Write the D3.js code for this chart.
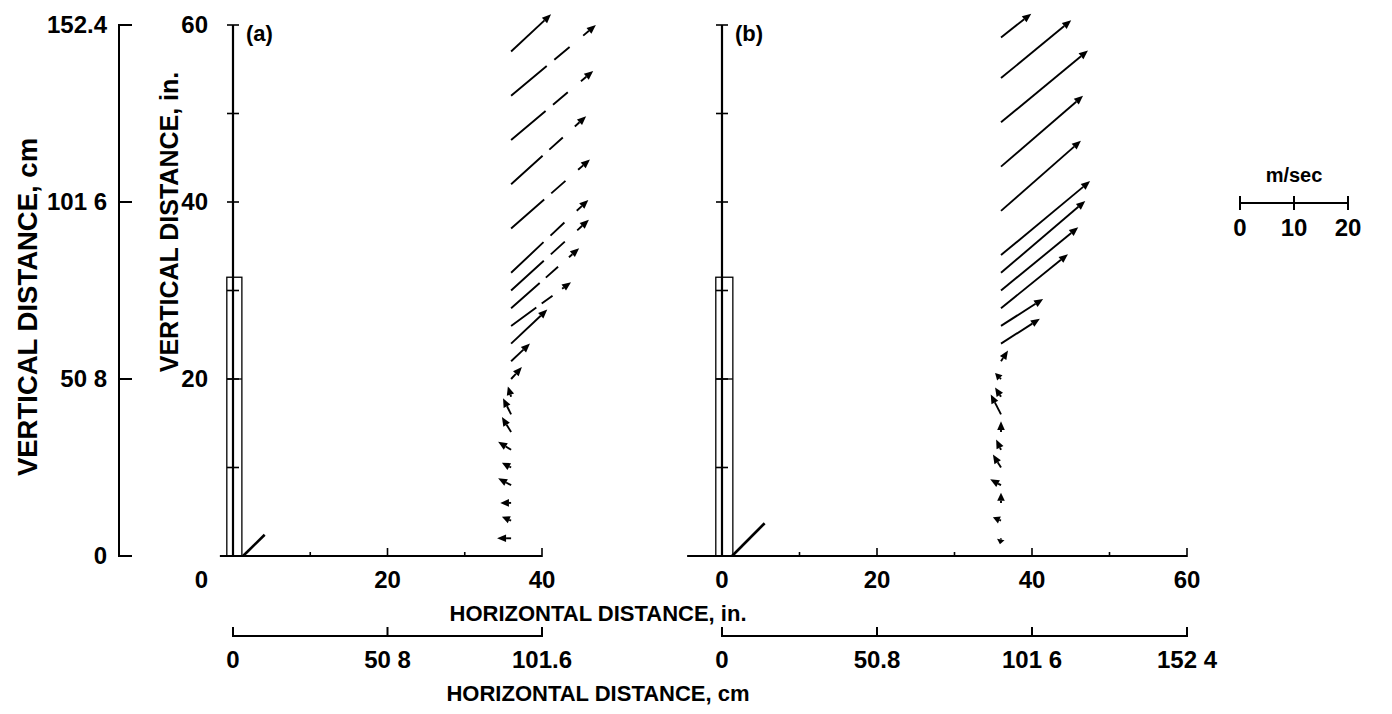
<!DOCTYPE html>
<html><head><meta charset="utf-8">
<script src="https://cdn.jsdelivr.net/npm/d3@7/dist/d3.min.js"></script>
<style>
body{margin:0;background:#fff}
text{font-family:"Liberation Sans",Arial,Helvetica,sans-serif;font-weight:bold;fill:#000}
</style>
</head><body>
<svg id="c" width="1392" height="714"></svg>
<script>
// ---------------- data ----------------
const stationIn = 36;                       // horizontal position of measuring station, in.
const heightsA = [2,4,6,8,10,12,14,16,18,20,22,24,26,28,30,32,37,42,47,52,57];
const uA = [-2.6,-1.7,-2.0,-2.4,-1.7,-2.4,-1.7,-1.5,-0.6,2.0,3.5,6.7,11.1,12.6,14.4,14.3,14.6,13.9,15.2,15.7,7.4];
const vA = [0.0,0.7,0.0,1.3,0.9,1.5,2.8,3.0,1.9,2.2,3.3,6.3,8.1,11.1,13.1,13.5,12.8,12.6,12.8,13.1,6.9];
const heightsB = [2,4,6,8,10,12,14,16,18,20,22,24,26,28,30,32,34,39,44,49,54,58.6];
const uB = [-0.2,-1.5,0.0,-2.0,-1.5,-0.9,0.0,-1.9,-1.1,-1.1,1.3,7.2,7.8,12.4,14.3,15.6,16.5,14.8,15.2,16.1,13.0,5.6];
const vB = [-1.1,0.6,1.9,1.1,2.4,1.9,2.0,3.7,1.7,1.1,2.0,4.6,5.0,10.0,11.7,13.3,13.7,13.0,13.1,13.3,10.7,4.4];
const yTicksIn = [0,10,20,30,40,50,60];
const yLabelsIn = [[20,"20"],[40,"40"],[60,"60"]];
const yTicksCm = [[0,"0"],[50.8,"50 8"],[101.6,"101 6"],[152.4,"152.4"]];
const xTicksA = [10,20,30,40];
const xLabelsA = [[20,"20"],[40,"40"]];
const xTicksB = [10,20,30,40,50,60];
const xLabelsB = [[0,"0"],[20,"20"],[40,"40"],[60,"60"]];
const cmTicksA = [[0,"0"],[50.8,"50 8"],[101.6,"101.6"]];
const cmTicksB = [[0,"0"],[50.8,"50.8"],[101.6,"101 6"],[152.4,"152 4"]];
const legendTicks = [0,10,20];
const modelA = {x0:-0.8, x1:1.15, top:31.5, mid:20};
const modelB = {x0:-0.8, x1:1.4, top:31.5, mid:20};
const baseVecA = [1.3,0,4.1,2.4];
const baseVecB = [1.3,0,5.5,3.7];

// ---------------- scales ----------------
const svg = d3.select("#c");
const yIn = d3.scaleLinear().domain([0,60]).range([556,25]);
const yCm = d3.scaleLinear().domain([0,152.4]).range([556,25]);
const xA = d3.scaleLinear().domain([0,40]).range([233,542]);
const xB = d3.scaleLinear().domain([0,60]).range([722,1187]);
const xCmA = d3.scaleLinear().domain([0,101.6]).range([233,542]);
const xCmB = d3.scaleLinear().domain([0,152.4]).range([722,1187]);
const sp = d3.scaleLinear().domain([0,20]).range([1240,1348]);
const k = sp(1) - sp(0);

function ln(g,x1,y1,x2,y2,w){
  return g.append("line").attr("x1",x1).attr("y1",y1).attr("x2",x2).attr("y2",y2)
    .attr("stroke","#000").attr("stroke-width",w||2).attr("stroke-linecap","butt");
}
function txt(g,x,y,s,size,anchor){
  return g.append("text").attr("x",x).attr("y",y).attr("font-size",size)
    .attr("text-anchor",anchor||"middle").text(s);
}

// ---------------- left cm axis ----------------
const gL = svg.append("g");
ln(gL,119,yCm(0),119,yCm(152.4),2);
yTicksCm.forEach(([v,s])=>{
  ln(gL,118,yCm(v),132,yCm(v),2);
  txt(gL,107,yCm(v)+8,s,24,"end");
});
gL.append("text").attr("transform","translate(37,307) rotate(-90)")
  .attr("font-size",27.5).attr("text-anchor","middle").text("VERTICAL DISTANCE, cm");
gL.append("text").attr("transform","translate(178,222) rotate(-90)")
  .attr("font-size",25).attr("text-anchor","middle").text("VERTICAL DISTANCE, in.");

// ---------------- panel builder ----------------
function panel(xs, xMinIn, model, baseVec, heights, u, v, xTicks, xLabels, broken, tag){
  const g = svg.append("g");
  const x0 = xs(0);
  g.append("rect").attr("x",xs(model.x0)).attr("y",yIn(model.top))
    .attr("width",xs(model.x1)-xs(model.x0)).attr("height",yIn(0)-yIn(model.top))
    .attr("fill","none").attr("stroke","#000").attr("stroke-width",1.3);
  ln(g,xs(model.x0),yIn(model.mid),xs(model.x1),yIn(model.mid),1.3);
  ln(g,x0,yIn(0),x0,yIn(60),2.2);
  yTicksIn.filter(t=>t>0).forEach(t=>ln(g,x0-6,yIn(t),x0+6,yIn(t),1.6));
  ln(g,xs(xMinIn),yIn(0),xs(d3.max(xTicks)),yIn(0),2);
  xTicks.forEach(t=>{
    const major = (t%20===0);
    ln(g,xs(t),yIn(0)-(major?8:4),xs(t),yIn(0)+1,1.6);
  });
  xLabels.forEach(([t,s])=>txt(g,xs(t),588,s,24));
  ln(g,xs(baseVec[0]),yIn(baseVec[1]),xs(baseVec[2]),yIn(baseVec[3]),2.6);
  txt(g,x0+13,41,tag,22,"start");
  heights.forEach((h,i)=>{
    const ax = xs(stationIn), ay = yIn(h);
    const dx = u[i]*k, dy = -v[i]*k;
    const L = Math.hypot(dx,dy);
    const ux = dx/L, uy = dy/L;
    const hl = Math.min(9, L*0.8), hw = 3.8;
    const ex = ax+dx, ey = ay+dy;
    const bx = ex-ux*hl, by = ey-uy*hl;
    if (L-hl > 0.5) {
      const s = ln(g,ax,ay,bx,by,1.9);
      if (broken && L>60) {
        const d = [0.42*L,0.09*L,0.18*L,0.16*L,L].map(q=>q.toFixed(1)).join(",");
        s.attr("stroke-dasharray",d);
      }
    }
    g.append("path")
      .attr("d",`M${ex},${ey}L${bx-uy*hw},${by+ux*hw}L${bx+uy*hw},${by-ux*hw}Z`)
      .attr("fill","#000");
  });
  return g;
}
const gA = panel(xA,-1.7,modelA,baseVecA,heightsA,uA,vA,xTicksA,xLabelsA,true,"(a)");
const gB = panel(xB,-4.5,modelB,baseVecB,heightsB,uB,vB,xTicksB,xLabelsB,false,"(b)");

yLabelsIn.forEach(([t,s])=>txt(gA,208,yIn(t)+8,s,24,"end"));
txt(gA,208,588,"0",24,"end");

txt(svg,598,621,"HORIZONTAL DISTANCE, in.",22);
txt(svg,598,701,"HORIZONTAL DISTANCE, cm",22);

// ---------------- bottom cm axes ----------------
function cmAxis(xs, ticks, maxV){
  const g = svg.append("g");
  const yy = 636;
  ln(g,xs(0),yy,xs(maxV),yy,2);
  ticks.forEach(([t,s])=>{
    ln(g,xs(t),yy-9,xs(t),yy+1,2);
    txt(g,xs(t),668,s,24);
  });
}
cmAxis(xCmA,cmTicksA,101.6);
cmAxis(xCmB,cmTicksB,152.4);

// ---------------- speed legend ----------------
const gS = svg.append("g");
txt(gS,sp(10),182,"m/sec",20);
ln(gS,sp(0),203,sp(20),203,2);
legendTicks.forEach(t=>{
  ln(gS,sp(t),196,sp(t),210,2);
  txt(gS,sp(t),236,String(t),24);
});
</script>
</body></html>
